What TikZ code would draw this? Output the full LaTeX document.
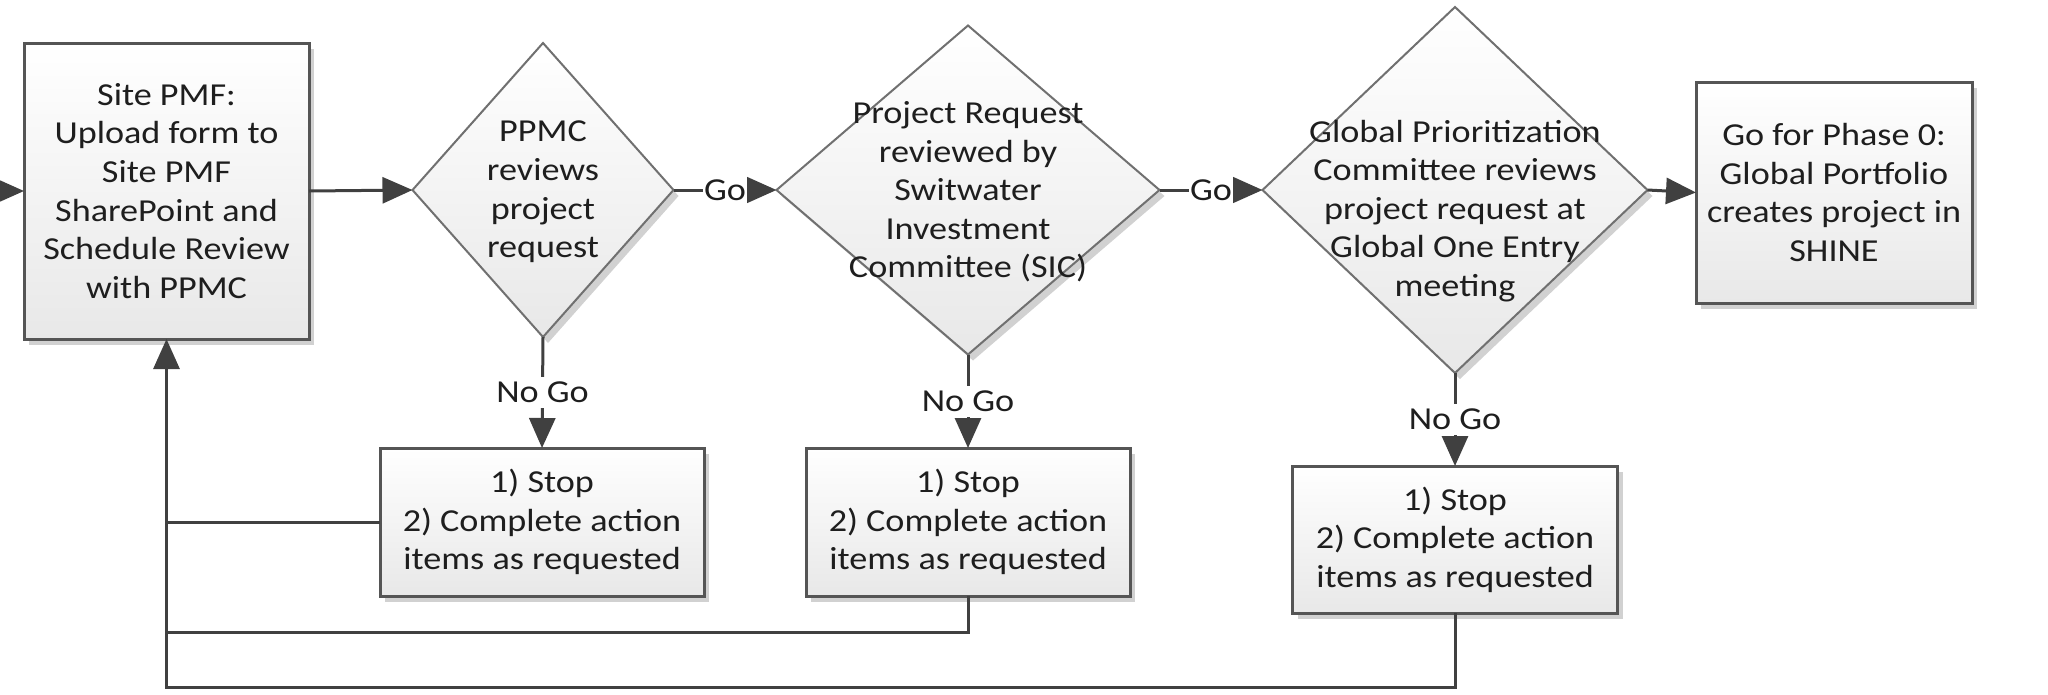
\documentclass[tikz,border=0pt]{standalone}
\usepackage{fontspec}
\setmainfont{Carlito}[FakeStretch=1.13]
\usetikzlibrary{arrows.meta,shapes.geometric,shadows}
\definecolor{lc}{HTML}{404040}
\definecolor{bc}{HTML}{555555}
\definecolor{dc}{HTML}{707070}
\definecolor{tc}{HTML}{1E1E1E}
\tikzset{
 dshadow/.style={drop shadow={shadow xshift=5pt,shadow yshift=-6pt,opacity=0.18,fill=black}},
 procbox/.style={rectangle, draw=bc, line width=3pt, top color=white, bottom color=black!9, dshadow, inner sep=0pt, outer sep=0pt, align=center, text=tc, font=\fontsize{32}{38.6}\selectfont},
 decbox/.style={diamond, draw=dc, line width=2pt, top color=white, bottom color=black!9, dshadow, inner sep=0pt, outer sep=0pt},
 txt/.style={align=center, text=tc, font=\fontsize{32}{38.6}\selectfont, inner sep=0pt},
 conn/.style={draw=lc, line width=3pt},
 arr/.style={conn, -{Triangle[length=30pt,width=26pt]}},
 lab/.style={fill=white, text=tc, font=\fontsize{32}{38.6}\selectfont, inner xsep=1pt, inner ysep=5pt},
}
\begin{document}
\begin{tikzpicture}[x=1pt,y=-1pt]
\useasboundingbox (0,0) rectangle (2048,694);
% main row
\node[procbox, minimum width=285pt, minimum height=296pt] (b0) at (166.5,191) {Site PMF:\\Upload form to\\Site PMF\\SharePoint and\\Schedule Review\\with PPMC};
\node[decbox, minimum width=261pt, minimum height=294pt] (d1) at (543,190) {};
\node[txt] (d1t) at (543,192) {PPMC\\reviews\\project\\request};
\node[decbox, minimum width=383pt, minimum height=329pt] (d2) at (968,190) {};
\node[txt] (d2t) at (968,192) {Project Request\\reviewed by\\Switwater\\Investment\\Committee (SIC)};
\node[decbox, minimum width=385pt, minimum height=366pt] (d3) at (1455,190) {};
\node[txt] (d3t) at (1455,211) {Global Prioritization\\Committee reviews\\project request at\\Global One Entry\\meeting};
\node[procbox, minimum width=276pt, minimum height=221pt] (b4) at (1834,192.5) {Go for Phase 0:\\Global Portfolio\\creates project in\\SHINE};
% stop boxes
\node[procbox, minimum width=324pt, minimum height=148pt] (s1) at (542,522) {1) Stop\\2) Complete action\\items as requested};
\node[procbox, minimum width=324pt, minimum height=148pt] (s2) at (968,522) {1) Stop\\2) Complete action\\items as requested};
\node[procbox, minimum width=325pt, minimum height=147pt] (s3) at (1455,539.5) {1) Stop\\2) Complete action\\items as requested};
% connectors
\coordinate (in) at (-8,191);
\draw[arr] (in) -- (b0.west);
\draw[arr] (b0.east) -- (d1.west);
\draw[arr] (d1.east) -- node[lab] (g1) {Go} (d2.west);
\draw[arr] (d2.east) -- node[lab] (g2) {Go} (d3.west);
\draw[arr] (d3.east) -- (b4.west);
\draw[arr] (d1.south) -- node[lab] (n1) {No Go} (s1.north);
\draw[arr] (d2.south) -- node[lab] (n2) {No Go} (s2.north);
\draw[arr] (d3.south) -- node[lab] (n3) {No Go} (s3.north);
% feedback
\coordinate (fb1) at (166.5,522);
\coordinate (fb2) at (166.5,632);
\coordinate (fb3) at (166.5,687);
\draw[conn] (s1.west) -- (fb1);
\draw[conn] (s2.south) |- (fb2);
\draw[arr] (s3.south) |- (fb3) -- (b0.south);
\end{tikzpicture}
\end{document}
